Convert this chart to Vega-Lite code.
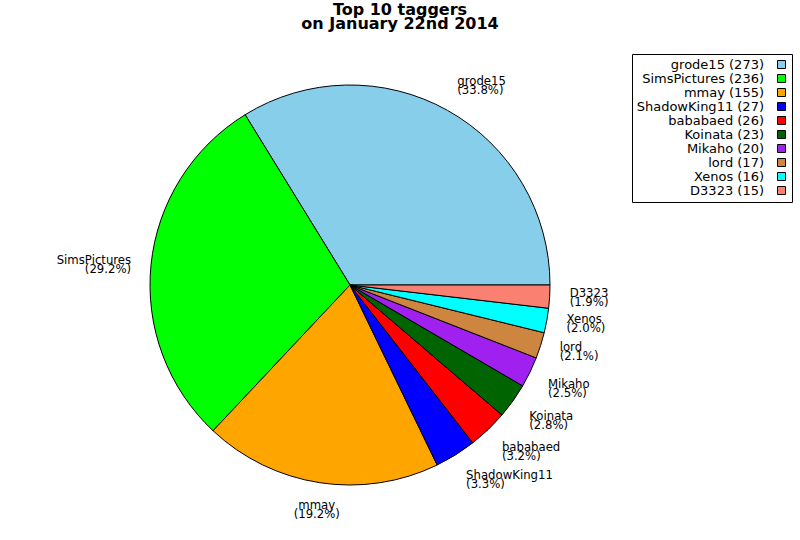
{
  "$schema": "https://vega.github.io/schema/vega-lite/v6.json",
  "width": 700,
  "height": 490,
  "autosize": "none",
  "padding": {"left": 0, "top": 40, "right": 100, "bottom": 10},
  "background": "white",
  "title": {
    "text": ["Top 10 taggers", "on January 22nd 2014"],
    "font": "DejaVu Sans",
    "fontSize": 16,
    "fontWeight": "bold",
    "lineHeight": 14,
    "color": "black",
    "anchor": "middle",
    "dx": 50,
    "offset": 8
  },
  "data": {
    "values": [
      {"tagger": "grode15", "count": 273},
      {"tagger": "SimsPictures", "count": 236},
      {"tagger": "mmay", "count": 155},
      {"tagger": "ShadowKing11", "count": 27},
      {"tagger": "bababaed", "count": 26},
      {"tagger": "Koinata", "count": 23},
      {"tagger": "Mikaho", "count": 20},
      {"tagger": "lord", "count": 17},
      {"tagger": "Xenos", "count": 16},
      {"tagger": "D3323", "count": 15}
    ]
  },
  "transform": [
    {"joinaggregate": [{"op": "sum", "field": "count", "as": "total"}]},
    {"calculate": "datum.tagger + '\\n(' + format(datum.count / datum.total * 100, '.1f') + '%)'", "as": "label"},
    {"calculate": "datum.tagger + ' (' + datum.count + ')'", "as": "entry"},
    {
      "stack": "count",
      "groupby": [],
      "sort": [{"field": "count", "order": "ascending"}],
      "as": ["s0", "s1"]
    },
    {"calculate": "(datum.s0 + datum.s1) / 2", "as": "mid"}
  ],
  "layer": [
    {
      "mark": {"type": "arc", "outerRadius": 200, "stroke": "black", "strokeWidth": 1},
      "encoding": {
        "theta": {
          "field": "count",
          "type": "quantitative",
          "stack": true,
          "scale": {"range": [1.5707963, 7.8539816]}
        },
        "order": {"field": "count", "sort": "ascending"},
        "color": {
          "field": "entry",
          "type": "nominal",
          "scale": {
            "domain": [
              "grode15 (273)",
              "SimsPictures (236)",
              "mmay (155)",
              "ShadowKing11 (27)",
              "bababaed (26)",
              "Koinata (23)",
              "Mikaho (20)",
              "lord (17)",
              "Xenos (16)",
              "D3323 (15)"
            ],
            "range": [
              "#87CEEB",
              "#00FF00",
              "#FFA500",
              "#0000FF",
              "#FF0000",
              "#006400",
              "#A020F0",
              "#CD853F",
              "#00FFFF",
              "#FA8072"
            ]
          },
          "legend": {
            "orient": "none",
            "legendX": 632,
            "legendY": 14,
            "title": null,
            "padding": 4,
            "strokeColor": "black",
            "fillColor": "white",
            "symbolType": "square",
            "symbolSize": 64,
            "symbolStrokeColor": "black",
            "symbolStrokeWidth": 1,
            "symbolOpacity": 1,
            "symbolOffset": 139,
            "labelOffset": -24,
            "labelAlign": "right",
            "labelFont": "DejaVu Sans",
            "labelFontSize": 13,
            "labelColor": "black",
            "labelLimit": 300,
            "rowPadding": -3
          }
        }
      }
    },
    {
      "transform": [{"filter": "datum.tagger == 'grode15'"}],
      "mark": {"type": "text", "radius": 220, "align": "left", "baseline": "bottom", "dy": -6, "lineBreak": "\n", "lineHeight": 9, "font": "DejaVu Sans", "fontSize": 11.7, "color": "black"},
      "encoding": {
        "theta": {"field": "mid", "type": "quantitative", "stack": null},
        "text": {"field": "label", "type": "nominal"}
      }
    },
    {
      "transform": [{"filter": "datum.tagger == 'SimsPictures'"}],
      "mark": {"type": "text", "radius": 220, "align": "right", "baseline": "middle", "dy": -3, "lineBreak": "\n", "lineHeight": 9, "font": "DejaVu Sans", "fontSize": 11.7, "color": "black"},
      "encoding": {
        "theta": {"field": "mid", "type": "quantitative", "stack": null},
        "text": {"field": "label", "type": "nominal"}
      }
    },
    {
      "transform": [{"filter": "datum.tagger == 'mmay'"}],
      "mark": {"type": "text", "radius": 220, "align": "center", "baseline": "top", "dy": -2, "lineBreak": "\n", "lineHeight": 9, "font": "DejaVu Sans", "fontSize": 11.7, "color": "black"},
      "encoding": {
        "theta": {"field": "mid", "type": "quantitative", "stack": null},
        "text": {"field": "label", "type": "nominal"}
      }
    },
    {
      "transform": [{"filter": {"field": "tagger", "oneOf": ["D3323", "Xenos", "lord"]}}],
      "mark": {"type": "text", "radius": 220, "align": "left", "baseline": "middle", "dy": -5, "lineBreak": "\n", "lineHeight": 9, "font": "DejaVu Sans", "fontSize": 11.7, "color": "black"},
      "encoding": {
        "theta": {"field": "mid", "type": "quantitative", "stack": null},
        "text": {"field": "label", "type": "nominal"}
      }
    },
    {
      "transform": [{"filter": {"field": "tagger", "oneOf": ["Mikaho", "Koinata", "bababaed", "ShadowKing11"]}}],
      "mark": {"type": "text", "radius": 220, "align": "left", "baseline": "top", "dy": -2, "lineBreak": "\n", "lineHeight": 9, "font": "DejaVu Sans", "fontSize": 11.7, "color": "black"},
      "encoding": {
        "theta": {"field": "mid", "type": "quantitative", "stack": null},
        "text": {"field": "label", "type": "nominal"}
      }
    }
  ],
  "config": {
    "view": {"stroke": null},
    "font": "DejaVu Sans",
    "style": {"guide-label": {"lineHeight": 9}}
  }
}
